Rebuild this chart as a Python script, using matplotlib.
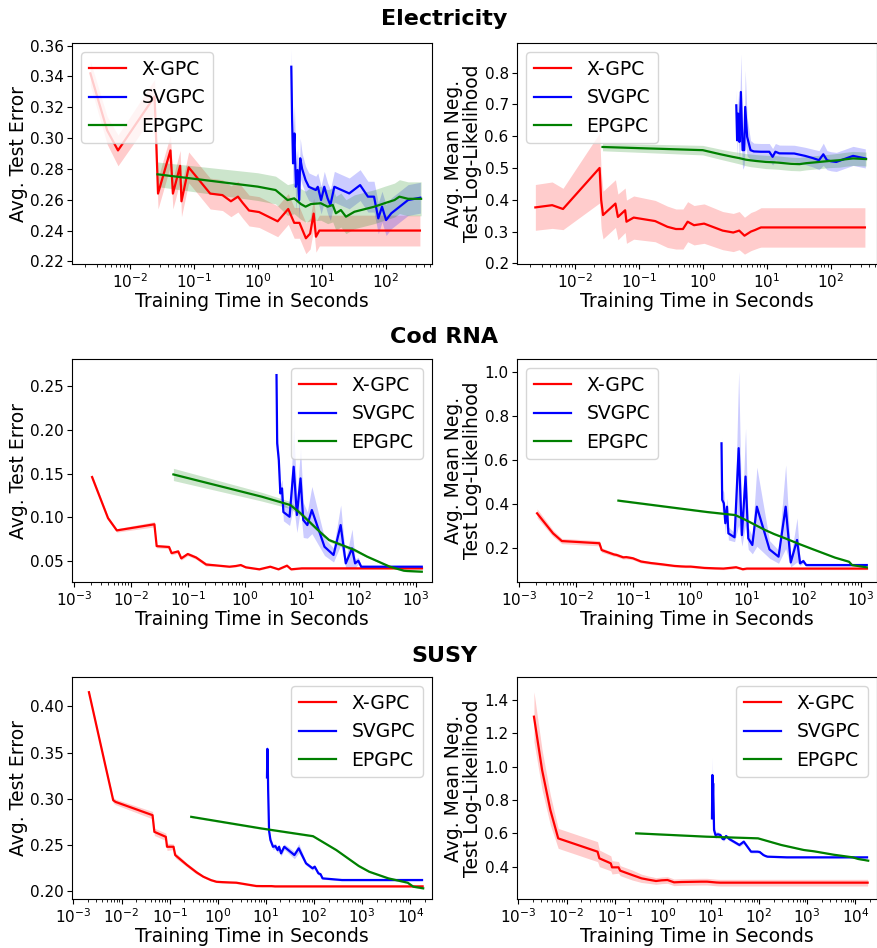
import numpy as np
import matplotlib
matplotlib.use("Agg")
from matplotlib import pyplot as plt
from matplotlib.ticker import LogLocator, NullFormatter

# ---------------- Electricity ----------------
el_x_t = [0.0024, 0.0044, 0.0065, 0.0243, 0.0257, 0.0275, 0.043, 0.047, 0.061, 0.064, 0.083, 0.18, 0.28, 0.38,
          0.49, 0.58, 0.73, 1.05, 2.05, 3.0, 3.72, 4.5, 5.67, 6.6, 7.5, 8.15, 9.2, 345]
el_x_err = [0.342, 0.305, 0.292, 0.327, 0.299, 0.264, 0.292, 0.264, 0.282, 0.259, 0.281, 0.264, 0.263, 0.259,
            0.262, 0.258, 0.253, 0.252, 0.246, 0.254, 0.245, 0.245, 0.235, 0.238, 0.251, 0.236, 0.240, 0.240]
el_x_err_sd = [0.008, 0.009, 0.010, 0.011, 0.011, 0.010, 0.010, 0.010, 0.010, 0.010, 0.010, 0.010, 0.010, 0.010,
               0.010, 0.010, 0.010, 0.010, 0.010, 0.010, 0.010, 0.010, 0.010, 0.010, 0.010, 0.010, 0.010, 0.010]
el_x_nll = [0.376, 0.383, 0.371, 0.500, 0.400, 0.352, 0.388, 0.346, 0.367, 0.331, 0.344, 0.333, 0.315, 0.308,
            0.308, 0.331, 0.320, 0.325, 0.303, 0.297, 0.303, 0.287, 0.300, 0.305, 0.310, 0.313, 0.313, 0.313]
el_x_nll_sd = [0.072, 0.073, 0.065, 0.110, 0.090, 0.075, 0.075, 0.072, 0.070, 0.068, 0.068, 0.065, 0.065, 0.063,
               0.063, 0.063, 0.062, 0.062, 0.060, 0.060, 0.060, 0.058, 0.060, 0.060, 0.061, 0.062, 0.062, 0.062]

el_s_t = [3.35, 3.45, 3.57, 3.75, 3.95, 4.2, 4.45, 4.62, 4.95, 5.6, 6.3, 8.1, 8.7, 9.8, 11, 12.4, 13.7, 15.8,
          27, 40, 53, 66, 77, 88, 102, 123, 225, 350]
el_s_err = [0.3463, 0.3117, 0.2836, 0.303, 0.2684, 0.2793, 0.2598, 0.2869, 0.280, 0.2728, 0.2684, 0.2663, 0.2684,
            0.2598, 0.2684, 0.2609, 0.2566, 0.2684, 0.2641, 0.2695, 0.262, 0.262, 0.2479, 0.2555, 0.2468, 0.2512,
            0.2598, 0.2613]
el_s_err_sd = [0.012, 0.015, 0.018, 0.018, 0.015, 0.014, 0.012, 0.013, 0.010, 0.009, 0.009, 0.009, 0.009, 0.009,
               0.010, 0.010, 0.010, 0.010, 0.010, 0.010, 0.010, 0.010, 0.010, 0.010, 0.010, 0.010, 0.010, 0.010]
el_s_nll = [0.697, 0.587, 0.671, 0.582, 0.739, 0.556, 0.556, 0.692, 0.598, 0.556, 0.552, 0.551, 0.551, 0.551,
            0.551, 0.535, 0.551, 0.546, 0.5455, 0.538, 0.531, 0.5245, 0.543, 0.5245, 0.521, 0.519, 0.538, 0.530]
el_s_nll_sd = [0.05, 0.05, 0.06, 0.06, 0.12, 0.06, 0.05, 0.115, 0.06, 0.03, 0.026, 0.026, 0.026, 0.026,
               0.026, 0.026, 0.026, 0.026, 0.026, 0.027, 0.028, 0.03, 0.035, 0.03, 0.03, 0.03, 0.03, 0.03]

el_e_t = [0.027, 1.0, 1.9, 2.93, 3.72, 4.73, 5.6, 6.8, 9.7, 12.4, 14.9, 16.7, 20, 24, 32.6, 41.4, 67, 96, 138,
          165, 225, 360]
el_e_err = [0.2765, 0.2685, 0.2663, 0.2598, 0.2609, 0.2572, 0.2555, 0.2572, 0.2577, 0.2555, 0.2566, 0.2512,
            0.2533, 0.249, 0.2522, 0.2533, 0.2555, 0.2577, 0.2598, 0.262, 0.2606, 0.2606]
el_e_err_sd = [0.008, 0.009, 0.009, 0.010, 0.010, 0.010, 0.010, 0.011, 0.011, 0.011, 0.011, 0.011, 0.011,
               0.011, 0.011, 0.011, 0.011, 0.011, 0.011, 0.011, 0.011, 0.011]
el_e_nll = [0.566, 0.556, 0.543, 0.535, 0.531, 0.526, 0.524, 0.522, 0.519, 0.518, 0.517, 0.516, 0.5145, 0.513,
            0.512, 0.515, 0.519, 0.522, 0.5245, 0.527, 0.530, 0.528]
el_e_nll_sd = [0.012, 0.015, 0.016, 0.017, 0.018, 0.019, 0.020, 0.020, 0.021, 0.021, 0.021, 0.021, 0.021,
               0.021, 0.021, 0.021, 0.021, 0.021, 0.022, 0.022, 0.022, 0.022]

# ---------------- Cod RNA ----------------
cod_x_t = [0.0021, 0.004, 0.0057, 0.026, 0.0285, 0.047, 0.052, 0.068, 0.077, 0.10, 0.14, 0.21, 0.31, 0.54,
           0.70, 0.85, 1.04, 1.8, 2.8, 3.9, 5.5, 6.5, 8.5, 10, 1280]
cod_x_err = [0.146, 0.099, 0.085, 0.092, 0.067, 0.066, 0.059, 0.061, 0.053, 0.058, 0.054, 0.046, 0.045, 0.0435,
             0.0443, 0.0454, 0.0428, 0.0405, 0.0435, 0.0405, 0.0447, 0.0405, 0.0412, 0.0416, 0.0416]
cod_x_err_sd = [0.003, 0.002, 0.002, 0.003, 0.002, 0.002, 0.002, 0.002, 0.002, 0.002, 0.002, 0.002, 0.001,
                0.001, 0.001, 0.001, 0.001, 0.001, 0.001, 0.001, 0.001, 0.001, 0.001, 0.001, 0.001]
cod_x_nll = [0.359, 0.268, 0.233, 0.223, 0.192, 0.172, 0.170, 0.159, 0.160, 0.155, 0.140, 0.133, 0.128, 0.120,
             0.118, 0.117, 0.117, 0.111, 0.109, 0.108, 0.112, 0.114, 0.105, 0.108, 0.108]
cod_x_nll_sd = [0.020, 0.015, 0.012, 0.012, 0.010, 0.008, 0.008, 0.008, 0.008, 0.007, 0.007, 0.006, 0.006,
                0.005, 0.005, 0.005, 0.005, 0.005, 0.005, 0.005, 0.006, 0.005, 0.005, 0.005, 0.005]

cod_s_t = [3.6, 3.7, 3.95, 4.2, 4.5, 4.75, 6.1, 7.2, 8.2, 9.5, 10.6, 12.5, 15, 25, 36, 48, 59, 76, 86, 98, 110,
           1270]
cod_s_err = [0.2626, 0.1845, 0.1654, 0.1273, 0.133, 0.106, 0.1006, 0.1578, 0.1026, 0.1445, 0.0969, 0.0911,
             0.1083, 0.0663, 0.0569, 0.0911, 0.0473, 0.0645, 0.0473, 0.0503, 0.0435, 0.0435]
cod_s_err_sd = [0.005, 0.010, 0.010, 0.010, 0.010, 0.010, 0.010, 0.045, 0.020, 0.035, 0.020, 0.015, 0.027,
                0.010, 0.008, 0.023, 0.005, 0.022, 0.005, 0.004, 0.001, 0.001]
cod_s_nll = [0.677, 0.420, 0.405, 0.314, 0.389, 0.268, 0.250, 0.655, 0.260, 0.526, 0.2455, 0.215, 0.389, 0.195,
             0.162, 0.389, 0.136, 0.238, 0.132, 0.142, 0.124, 0.124]
cod_s_nll_sd = [0.03, 0.05, 0.05, 0.05, 0.04, 0.03, 0.02, 0.35, 0.05, 0.22, 0.05, 0.04, 0.18, 0.04, 0.03, 0.19,
                0.02, 0.10, 0.01, 0.01, 0.005, 0.005]

cod_e_t = [0.056, 2.0, 6.3, 9.5, 21, 30, 47, 84, 140, 350, 620, 700, 1270]
cod_e_err = [0.149, 0.1235, 0.114, 0.1045, 0.083, 0.074, 0.069, 0.0626, 0.055, 0.0435, 0.0389, 0.0386, 0.0378]
cod_e_err_sd = [0.007, 0.005, 0.004, 0.003, 0.002, 0.002, 0.002, 0.002, 0.001, 0.001, 0.001, 0.001, 0.001]
cod_e_nll = [0.4167, 0.365, 0.351, 0.329, 0.283, 0.265, 0.2455, 0.219, 0.197, 0.158, 0.139, 0.124, 0.1136]
cod_e_nll_sd = [0.004, 0.004, 0.004, 0.004, 0.003, 0.003, 0.003, 0.003, 0.003, 0.003, 0.003, 0.003, 0.003]

# ---------------- SUSY ----------------
susy_x_t = [0.0021, 0.0031, 0.0046, 0.0067, 0.0075, 0.044, 0.048, 0.083, 0.088, 0.12, 0.13, 0.23, 0.36, 0.5,
            0.72, 0.94, 1.25, 1.71, 2.42, 6.3, 8.3, 13, 15.5, 18000]
susy_x_err = [0.4155, 0.376, 0.336, 0.2982, 0.2964, 0.282, 0.2639, 0.2585, 0.2477, 0.2477, 0.2387, 0.2278, 0.220,
              0.2152, 0.2115, 0.2097, 0.2093, 0.209, 0.2087, 0.2051, 0.205, 0.205, 0.2047, 0.2047]
susy_x_err_sd = [0.002, 0.002, 0.002, 0.003, 0.003, 0.004, 0.004, 0.004, 0.004, 0.003, 0.003, 0.002, 0.002,
                 0.001, 0.001, 0.001, 0.001, 0.001, 0.001, 0.001, 0.001, 0.001, 0.001, 0.001]
susy_x_nll = [1.30, 0.98, 0.74, 0.57, 0.565, 0.49, 0.45, 0.42, 0.396, 0.396, 0.376, 0.35, 0.33, 0.322, 0.314,
              0.318, 0.32, 0.306, 0.308, 0.31, 0.31, 0.305, 0.304, 0.304]
susy_x_nll_sd = [0.15, 0.12, 0.09, 0.06, 0.06, 0.06, 0.05, 0.045, 0.04, 0.035, 0.03, 0.03, 0.025, 0.022, 0.02,
                 0.02, 0.02, 0.02, 0.02, 0.02, 0.02, 0.02, 0.02, 0.02]

susy_s_t = [10.5, 10.7, 10.9, 11.1, 11.6, 12.4, 14, 15.7, 17.5, 18.7, 20.6, 24, 39, 48, 68, 93, 103, 123, 136,
            150, 380, 17500]
susy_s_err = [0.323, 0.354, 0.34, 0.31, 0.265, 0.255, 0.2477, 0.2484, 0.2441, 0.2477, 0.2405, 0.2477, 0.2387,
              0.246, 0.2297, 0.2243, 0.2261, 0.2188, 0.218, 0.2134, 0.2116, 0.2116]
susy_s_err_sd = [0.005, 0.005, 0.005, 0.005, 0.004, 0.003, 0.003, 0.003, 0.003, 0.003, 0.003, 0.003, 0.004,
                 0.005, 0.002, 0.002, 0.002, 0.002, 0.001, 0.001, 0.001, 0.001]
susy_s_nll = [0.69, 0.95, 0.80, 0.90, 0.62, 0.59, 0.594, 0.59, 0.566, 0.565, 0.584, 0.566, 0.53, 0.55, 0.49,
              0.49, 0.488, 0.47, 0.464, 0.46, 0.456, 0.456]
susy_s_nll_sd = [0.05, 0.11, 0.06, 0.08, 0.03, 0.02, 0.015, 0.01, 0.01, 0.01, 0.01, 0.01, 0.01, 0.012, 0.008,
                 0.008, 0.008, 0.006, 0.006, 0.005, 0.005, 0.005]

susy_e_t = [0.28, 8, 95, 290, 850, 1400, 3500, 8800, 11500, 18500]
susy_e_err = [0.2802, 0.2676, 0.2592, 0.2441, 0.2268, 0.2206, 0.2134, 0.2087, 0.2044, 0.2026]
susy_e_err_sd = [0.001, 0.001, 0.001, 0.001, 0.001, 0.001, 0.001, 0.001, 0.001, 0.001]
susy_e_nll = [0.60, 0.58, 0.57, 0.53, 0.50, 0.492, 0.472, 0.456, 0.446, 0.436]
susy_e_nll_sd = [0.003, 0.003, 0.003, 0.003, 0.003, 0.003, 0.003, 0.003, 0.003, 0.003]

labels = ['X-GPC', 'SVGPC', 'EPGPC']
colors = ['red', 'blue', 'green']
titles = ['Electricity', 'Cod RNA', 'SUSY']


def draw(ax, t, m, s, color, label):
    t = np.asarray(t)
    m = np.asarray(m)
    s = np.asarray(s)
    ax.fill_between(t, m - s, m + s, color=color, alpha=0.2, lw=0)
    ax.plot(t, m, color=color, lw=1.6, label=label)


W, H = 878, 948
fig = plt.figure(figsize=(W / 100, H / 100), dpi=100)


def make_ax(left, top, right, bottom):
    return fig.add_axes([left / W, 1 - bottom / H, (right - left) / W, (bottom - top) / H])


rows = [(43, 264), (359, 582), (677, 899)]
axes = []
for top, bottom in rows:
    axes.append((make_ax(72, top, 432, bottom), make_ax(517, top, 877, bottom)))

series = [
    [(el_x_t, el_x_err, el_x_err_sd, el_x_nll, el_x_nll_sd),
     (el_s_t, el_s_err, el_s_err_sd, el_s_nll, el_s_nll_sd),
     (el_e_t, el_e_err, el_e_err_sd, el_e_nll, el_e_nll_sd)],
    [(cod_x_t, cod_x_err, cod_x_err_sd, cod_x_nll, cod_x_nll_sd),
     (cod_s_t, cod_s_err, cod_s_err_sd, cod_s_nll, cod_s_nll_sd),
     (cod_e_t, cod_e_err, cod_e_err_sd, cod_e_nll, cod_e_nll_sd)],
    [(susy_x_t, susy_x_err, susy_x_err_sd, susy_x_nll, susy_x_nll_sd),
     (susy_s_t, susy_s_err, susy_s_err_sd, susy_s_nll, susy_s_nll_sd),
     (susy_e_t, susy_e_err, susy_e_err_sd, susy_e_nll, susy_e_nll_sd)],
]

xlims = [(10 ** -2.907, 10 ** 2.727), (10 ** -3.03, 10 ** 3.283), (10 ** -3.03, 10 ** 4.45)]
xdecades = [(-2, 2), (-3, 3), (-3, 4)]
ylims = [((0.2183, 0.3617), (0.198, 0.893)),
         ((0.026, 0.281), (0.047, 1.06)),
         ((0.191, 0.432), (0.206, 1.538))]
yticks = [(np.arange(0.22, 0.3601, 0.02), np.arange(0.2, 0.801, 0.1)),
          (np.arange(0.05, 0.2501, 0.05), np.arange(0.2, 1.001, 0.2)),
          (np.arange(0.20, 0.4001, 0.05), np.arange(0.4, 1.401, 0.2))]
legend_locs = [('upper left', 'upper left'), ('upper right', 'upper left'), ('upper right', 'upper right')]

for r in range(3):
    ax_err, ax_nll = axes[r]
    for (t, em, es, nm, ns), c, lab in zip(series[r], colors, labels):
        draw(ax_err, t, em, es, c, lab)
        draw(ax_nll, t, nm, ns, c, lab)
    lo, hi = xdecades[r]
    for k, ax in enumerate((ax_err, ax_nll)):
        ax.set_xscale('log')
        ax.set_xticks([10.0 ** e for e in range(lo, hi + 1)])
        ax.xaxis.set_minor_locator(LogLocator(base=10, subs=np.arange(2, 10), numticks=20))
        ax.xaxis.set_minor_formatter(NullFormatter())
        ax.set_xlim(*xlims[r])
        ax.set_ylim(*ylims[r][k])
        ax.set_yticks(yticks[r][k])
        ax.tick_params(labelsize=11, pad=2.5)
        ax.set_xlabel('Training Time in Seconds', fontsize=13.5, labelpad=1)
        ax.legend(loc=legend_locs[r][k], fontsize=13.5)
    ax_err.set_ylabel('Avg. Test Error', fontsize=13.5)
    ax_err.yaxis.set_label_coords(-0.122, 0.5)
    ax_nll.set_ylabel('Avg. Mean Neg.\nTest Log-Likelihood', fontsize=13.5, linespacing=1.0)
    ax_nll.yaxis.set_label_coords(-0.098, 0.5)

fig.text(0.506, 1 - 19 / H, titles[0], ha='center', va='center', fontsize=16, fontweight='bold')
fig.text(0.506, 1 - 337 / H, titles[1], ha='center', va='center', fontsize=16, fontweight='bold')
fig.text(0.506, 1 - 656 / H, titles[2], ha='center', va='center', fontsize=16, fontweight='bold')

fig.savefig('out.png', dpi=100)
